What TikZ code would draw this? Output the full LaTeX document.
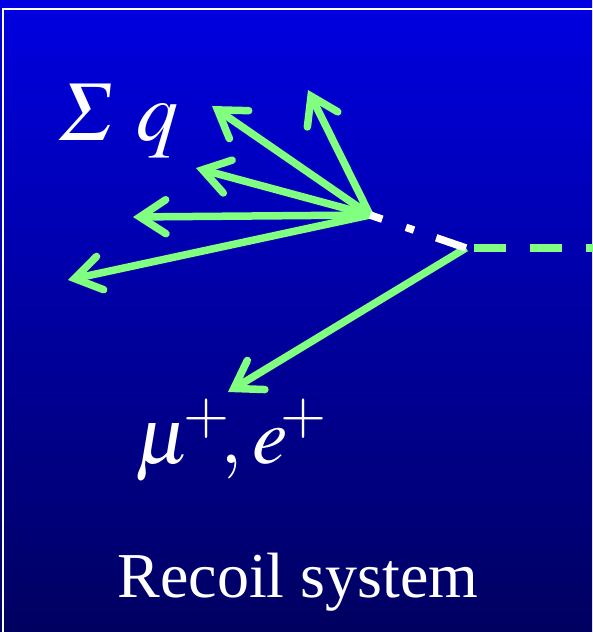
\documentclass[tikz,border=0pt]{standalone}
\usepackage{mathptmx}
\usepackage[no-math]{fontspec}
\setmainfont{Liberation Serif}
\usetikzlibrary{arrows.meta}
\definecolor{lepton}{RGB}{128,255,128}
\definecolor{bgtop}{RGB}{0,0,226}
\definecolor{bgbot}{RGB}{0,0,96}

\begin{document}
\begin{tikzpicture}[x=1pt,y=-1pt,
  >={Straight Barb[length=26pt,width=34pt,line cap=round]},
  track/.style={draw=lepton,line width=7.5pt,->},
  every node/.style={text=white,inner sep=0pt}]
  \useasboundingbox (0,0) rectangle (592,632);
  \shade[top color=bgtop,bottom color=bgbot] (0,0) rectangle (592,632);
  \draw[white,line width=1.5pt] (3,9) rectangle (610,650);
  \coordinate (vtx) at (370,215);
  \coordinate (decay) at (466,248);
  \coordinate (beam) at (600,248);
  \coordinate (q1) at (308,90);
  \coordinate (q2) at (212,106);
  \coordinate (q3) at (196,168);
  \coordinate (q4) at (133,217);
  \coordinate (q5) at (68,280);
  \coordinate (lep) at (228,392);
  \foreach \tip in {q1,q2,q3,q4,q5}
    \draw[track] (vtx) -- (\tip);
  \draw[track] (decay) -- (lep);
  \draw[lepton,line width=7.5pt,dash pattern=on 32pt off 24pt,dash phase=48pt] (decay) -- (beam);
  \draw[white,line width=7.5pt,dash pattern=on 13pt off 25pt on 8.5pt off 23.5pt on 40pt] (vtx) -- (decay);
  \node[font=\fontsize{84}{84}\selectfont,anchor=base west] (sumq) at (58,140) {$\mathchar"7106\;q$};
  \node[font=\fontsize{80}{80}\selectfont,anchor=base west] (leptons) at (135,463)
    {$\mu^{\!+}\!{,}\,e^{\!+}$};
  \node[font=\fontsize{64}{64}\selectfont,anchor=base] (recoil) at (298,597) {Recoil system};
\end{tikzpicture}
\end{document}
